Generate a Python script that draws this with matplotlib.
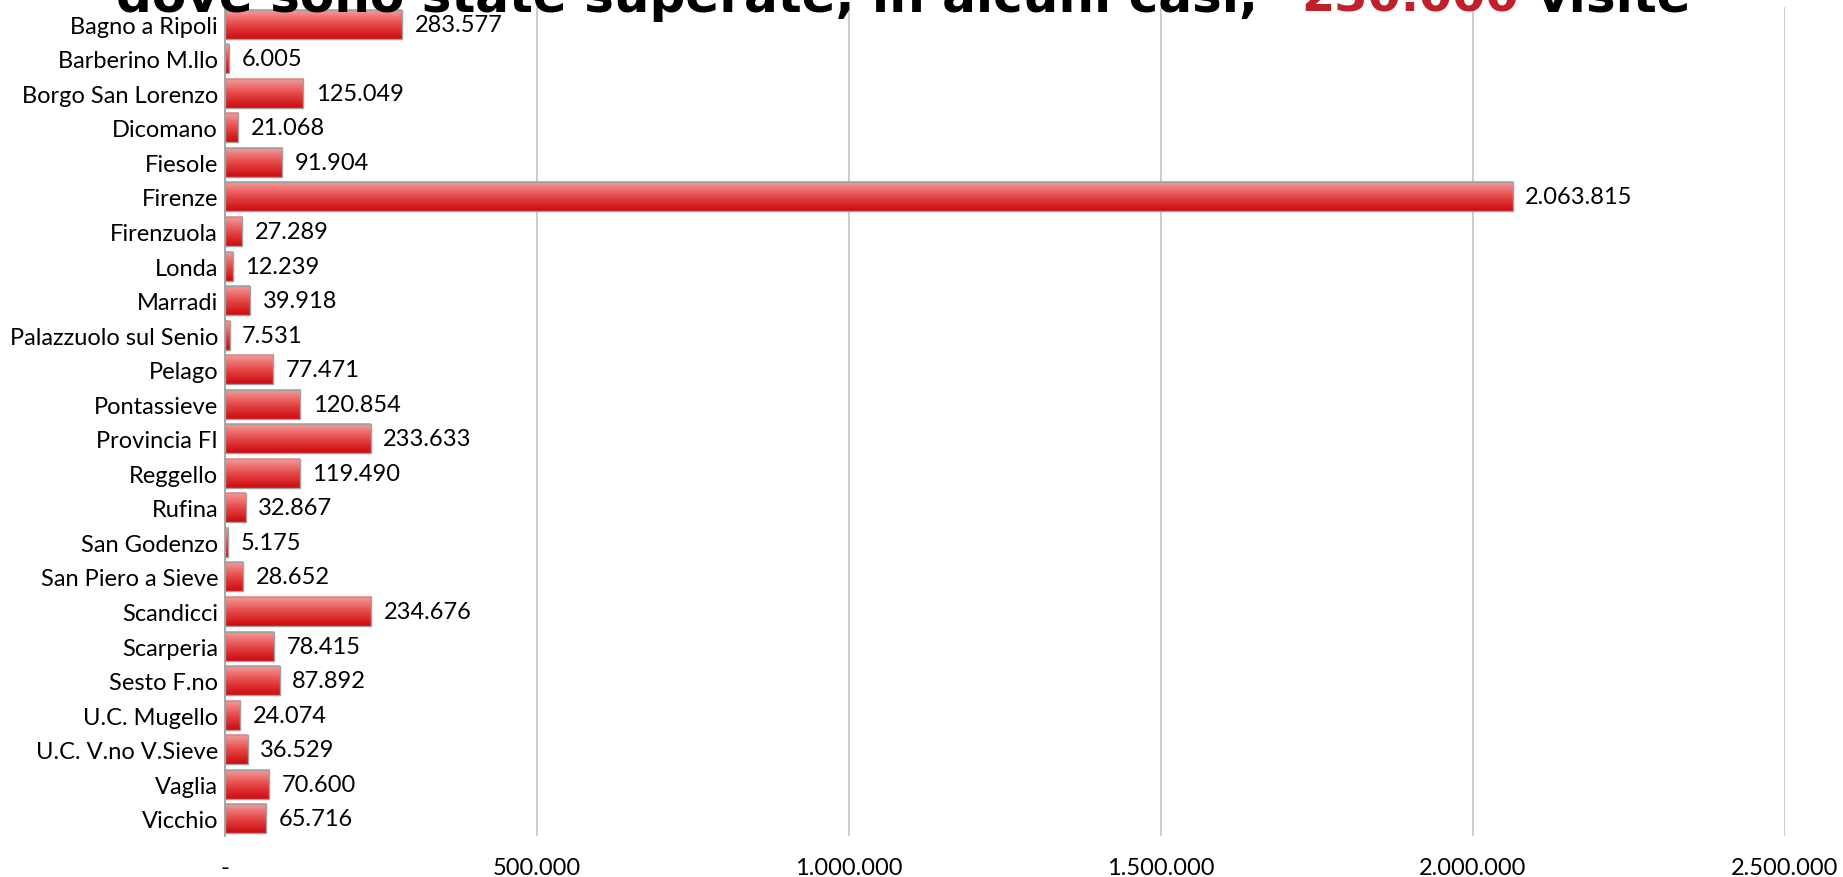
import numpy as np
import matplotlib.pyplot as plt
from matplotlib.colors import LinearSegmentedColormap

comuni = ["Bagno a Ripoli", "Barberino M.llo", "Borgo San Lorenzo", "Dicomano",
          "Fiesole", "Firenze", "Firenzuola", "Londa", "Marradi",
          "Palazzuolo sul Senio", "Pelago", "Pontassieve", "Provincia FI",
          "Reggello", "Rufina", "San Godenzo", "San Piero a Sieve", "Scandicci",
          "Scarperia", "Sesto F.no", "U.C. Mugello", "U.C. V.no V.Sieve",
          "Vaglia", "Vicchio"]
visite = [283577, 6005, 125049, 21068, 91904, 2063815, 27289, 12239, 39918,
          7531, 77471, 120854, 233633, 119490, 32867, 5175, 28652, 234676,
          78415, 87892, 24074, 36529, 70600, 65716]
xticks = [0, 500000, 1000000, 1500000, 2000000, 2500000]
xtick_labels = ["-", "500.000", "1.000.000", "1.500.000", "2.000.000", "2.500.000"]

plt.rcParams['font.family'] = ['Lato', 'DejaVu Sans']

fig = plt.figure(figsize=(18.43, 8.78), dpi=100)
ax = fig.add_axes([0.1221, 0.0467, 0.9685 - 0.1221, 0.9909 - 0.0467])

n = len(comuni)
pos = np.arange(n)
h = 0.84
fs = 17

# vertical gradient for the bars, light on top, dark red at the bottom
cmap = LinearSegmentedColormap.from_list("rosso", ["#f7a0a0", "#e64a4a", "#cc0a0f"])
grad = np.linspace(0, 1, 64).reshape(-1, 1)
for p, v in zip(pos, visite):
    ax.imshow(grad, cmap=cmap, extent=(0, v, p + h / 2, p - h / 2),
              origin='upper', aspect='auto', interpolation='bilinear', zorder=2)
ax.barh(pos, visite, height=h, color='none', edgecolor='#a0a0a0', linewidth=1, zorder=3)

for p, v in zip(pos, visite):
    ax.annotate(f"{v:,}".replace(",", "."), (v, p), xytext=(9, 0),
                textcoords='offset points', va='center', ha='left', fontsize=fs)

ax.set_xlim(0, 2500000)
ax.set_ylim(n - 0.5, -0.5)
ax.set_yticks(pos)
ax.set_yticklabels(comuni, fontsize=fs)
ax.set_xticks(xticks)
ax.set_xticklabels(xtick_labels, fontsize=fs)
ax.tick_params(axis='x', length=0, pad=15)
ax.tick_params(axis='y', length=0, pad=5)
ax.grid(axis='x', color='#c8c8c8', linewidth=1.3)
ax.set_axisbelow(True)
for s in ['top', 'right', 'bottom']:
    ax.spines[s].set_visible(False)
ax.spines['left'].set_color('#a0a0a0')
ax.spines['left'].set_linewidth(1.3)

# title, partly cut off at the top
ty = 1 - 12 / 878
fig.text(0.0630, ty, "dove sono state superate, in alcuni casi,", family='DejaVu Sans',
         fontweight='bold', fontsize=36, va='baseline', ha='left')
fig.text(0.7060, ty, "230.000", family='DejaVu Sans', fontweight='bold', fontsize=34.5,
         color='#c0202a', va='baseline', ha='left')
fig.text(0.8335, ty, "visite", family='DejaVu Sans', fontweight='bold', fontsize=36,
         va='baseline', ha='left')

fig.savefig("out.png", dpi=100)
